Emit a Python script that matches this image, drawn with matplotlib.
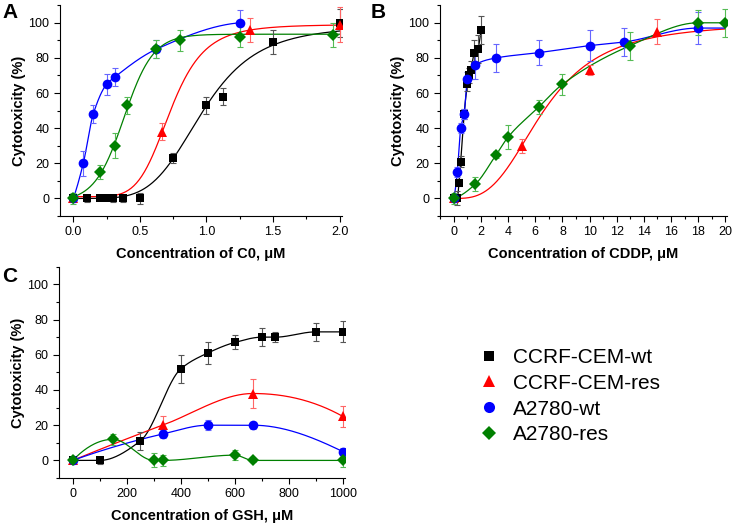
import numpy as np
import matplotlib
matplotlib.use("Agg")
import matplotlib.pyplot as plt
from matplotlib.lines import Line2D
from matplotlib.ticker import MultipleLocator

plt.rcParams['font.family'] = ['Liberation Sans', 'DejaVu Sans']

labels = ['CCRF-CEM-wt', 'CCRF-CEM-res', 'A2780-wt', 'A2780-res']
colors = ['black', 'red', 'blue', 'green']
err_colors = ['#555555', '#ff6666', '#6666ff', '#55bb55']
markers = ['s', '^', 'o', 'D']
msizes = [6, 7, 7, 6]

# Panel A - C0
a_wt_x = [0, 0.1, 0.2, 0.25, 0.3, 0.375, 0.5, 0.75, 1.0, 1.125, 1.5, 2.0]
a_wt_y = [0, 0, 0, 0, 0, 0, 0, 23, 53, 58, 89, 100]
a_wt_e = [2, 2, 1, 1, 2, 2, 3, 3, 5, 5, 7, 8]
a_res_x = [0, 0.67, 1.33, 2.0]
a_res_y = [0, 38, 96, 99]
a_res_e = [1, 5, 7, 10]
a_a_wt_x = [0, 0.075, 0.15, 0.25, 0.31, 0.625, 1.25]
a_a_wt_y = [0, 20, 48, 65, 69, 85, 100]
a_a_wt_e = [1, 7, 5, 6, 5, 5, 7]
a_a_res_x = [0, 0.2, 0.31, 0.4, 0.625, 0.8, 1.25, 1.95]
a_a_res_y = [0, 15, 30, 53, 85, 90, 92, 93]
a_a_res_e = [3, 4, 7, 5, 5, 6, 6, 7]

# Panel B - CDDP
b_wt_x = [0, 0.25, 0.375, 0.5, 0.75, 1.0, 1.125, 1.25, 1.5, 1.75, 2.0]
b_wt_y = [0, 0, 9, 21, 48, 65, 70, 73, 83, 85, 96]
b_wt_e = [2, 4, 2, 3, 3, 4, 4, 5, 7, 8, 8]
b_res_x = [0, 5, 10, 15]
b_res_y = [0, 30, 73, 95]
b_res_e = [1, 4, 3, 7]
b_a_wt_x = [0, 0.25, 0.5, 0.75, 1.0, 1.56, 3.125, 6.25, 10, 12.5, 18]
b_a_wt_y = [0, 15, 40, 48, 68, 76, 80, 83, 87, 89, 97]
b_a_wt_e = [2, 3, 3, 3, 4, 8, 8, 7, 9, 8, 9]
b_a_res_x = [0, 1.56, 3.125, 4, 6.25, 8, 13, 18, 20]
b_a_res_y = [0, 8, 25, 35, 52, 65, 87, 100, 100]
b_a_res_e = [3, 4, 2, 7, 4, 6, 8, 7, 8]

# Panel C - GSH
c_wt_x = [0, 100, 250, 400, 500, 600, 700, 750, 900, 1000]
c_wt_y = [0, 0, 11, 52, 61, 67, 70, 70, 73, 73]
c_wt_e = [1, 2, 5, 8, 6, 4, 5, 3, 5, 6]
c_res_x = [0, 333, 667, 1000]
c_res_y = [0, 20, 38, 25]
c_res_e = [1, 5, 8, 6]
c_a_wt_x = [0, 333, 500, 667, 1000]
c_a_wt_y = [0, 15, 20, 20, 5]
c_a_wt_e = [1, 2, 3, 2, 2]
c_a_res_x = [0, 150, 300, 333, 600, 667, 1000]
c_a_res_y = [0, 12, 0, 0, 3, 0, 0]
c_a_res_e = [2, 3, 4, 3, 3, 1, 4]

# fitted curve parameters (bottom, top, x0, slope)
a_wt_fit = (0, 98.5, 0.97, 4.7)      # Hill
a_res_fit = (1, 99, 0.73, 5.7)       # Hill
a_a_res_fit = (-2, 93.5, 0.38, 0.11)  # Boltzmann
b_res_fit = (0, 100, 6.63, 3.0)      # Hill


def hill(x, p):
    bottom, top, x0, n = p
    x = np.maximum(x, 1e-9)
    return bottom + (top - bottom) / (1 + (x0 / x) ** n)


def boltzmann(x, p):
    bottom, top, x0, dx = p
    return bottom + (top - bottom) / (1 + np.exp((x0 - x) / dx))


def edge_slope(h0, h1, m0, m1):
    d = ((2 * h0 + h1) * m0 - h0 * m1) / (h0 + h1)
    if np.sign(d) != np.sign(m0):
        d = 0.0
    elif np.sign(m0) != np.sign(m1) and abs(d) > 3 * abs(m0):
        d = 3 * m0
    return d


def smooth(x, y, n=300):
    """Monotone cubic (PCHIP) curve through the points."""
    x = np.asarray(x, float)
    y = np.asarray(y, float)
    h = np.diff(x)
    d = np.diff(y) / h
    m = np.zeros_like(y)
    for k in range(1, len(x) - 1):
        if d[k - 1] * d[k] > 0:
            w1 = 2 * h[k] + h[k - 1]
            w2 = h[k] + 2 * h[k - 1]
            m[k] = (w1 + w2) / (w1 / d[k - 1] + w2 / d[k])
    m[0] = edge_slope(h[0], h[1], d[0], d[1])
    m[-1] = edge_slope(h[-1], h[-2], d[-1], d[-2])
    xs = np.linspace(x[0], x[-1], n)
    i = np.clip(np.searchsorted(x, xs) - 1, 0, len(x) - 2)
    t = (xs - x[i]) / h[i]
    h00 = 2 * t**3 - 3 * t**2 + 1
    h10 = t**3 - 2 * t**2 + t
    h01 = -2 * t**3 + 3 * t**2
    h11 = t**3 - t**2
    ys = h00 * y[i] + h10 * h[i] * m[i] + h01 * y[i + 1] + h11 * h[i] * m[i + 1]
    return xs, ys


def draw_points(ax, k, x, y, e):
    ax.errorbar(x, y, yerr=e, fmt='none', ecolor=err_colors[k], elinewidth=0.8,
                capsize=2.2, capthick=0.8, zorder=2 + k)
    ax.plot(x, y, ls='none', marker=markers[k], color=colors[k], ms=msizes[k],
            mew=0, zorder=6 + k)


def style_axes(ax, xlabel, xmaj, xmin, xlim):
    ax.set_xlim(*xlim)
    ax.set_ylim(-10, 110)
    for s in ['top', 'right']:
        ax.spines[s].set_visible(False)
    ax.xaxis.set_major_locator(MultipleLocator(xmaj))
    ax.xaxis.set_minor_locator(MultipleLocator(xmin))
    ax.set_yticks([0, 20, 40, 60, 80, 100])
    ax.yaxis.set_minor_locator(MultipleLocator(10))
    ax.tick_params(which='both', direction='out', labelsize=9, width=0.8)
    ax.tick_params(which='major', length=4)
    ax.tick_params(which='minor', length=2.5)
    ax.set_xlabel(xlabel, fontsize=10.5, fontweight='bold', labelpad=6)
    ax.set_ylabel('Cytotoxicity (%)', fontsize=10.5, fontweight='bold', labelpad=2)


fig = plt.figure(figsize=(7.34, 5.23), dpi=100)
axA = fig.add_axes([0.0817, 0.587, 0.3845, 0.403])
axB = fig.add_axes([0.599, 0.587, 0.391, 0.403])
axC = fig.add_axes([0.080, 0.086, 0.390, 0.404])

lw = 0.9

# Panel A
xs = np.linspace(0, 2.0, 300)
axA.plot(xs, hill(xs, a_wt_fit), color=colors[0], lw=lw, zorder=1)
axA.plot(xs, hill(xs, a_res_fit), color=colors[1], lw=lw, zorder=1)
axA.plot(*smooth(a_a_wt_x, a_a_wt_y), color=colors[2], lw=lw, zorder=1)
axA.plot(xs, boltzmann(xs, a_a_res_fit), color=colors[3], lw=lw, zorder=1)
draw_points(axA, 0, a_wt_x, a_wt_y, a_wt_e)
draw_points(axA, 1, a_res_x, a_res_y, a_res_e)
draw_points(axA, 2, a_a_wt_x, a_a_wt_y, a_a_wt_e)
draw_points(axA, 3, a_a_res_x, a_a_res_y, a_a_res_e)
style_axes(axA, 'Concentration of C0, \u03bcM', 0.5, 0.25, (-0.1, 2.02))

# Panel B
xs = np.linspace(0, 20, 400)
axB.plot(*smooth(b_wt_x, b_wt_y), color=colors[0], lw=lw, zorder=1)
axB.plot(xs, hill(xs, b_res_fit), color=colors[1], lw=lw, zorder=1)
axB.plot(*smooth(b_a_wt_x + [20], b_a_wt_y + [97]), color=colors[2], lw=lw, zorder=1)
axB.plot(*smooth(b_a_res_x, b_a_res_y), color=colors[3], lw=lw, zorder=1)
draw_points(axB, 0, b_wt_x, b_wt_y, b_wt_e)
draw_points(axB, 1, b_res_x, b_res_y, b_res_e)
draw_points(axB, 2, b_a_wt_x, b_a_wt_y, b_a_wt_e)
draw_points(axB, 3, b_a_res_x, b_a_res_y, b_a_res_e)
style_axes(axB, 'Concentration of CDDP, \u03bcM', 2, 1, (-1.05, 20.1))

# Panel C
axC.plot(*smooth(c_wt_x, c_wt_y), color=colors[0], lw=lw, zorder=1)
axC.plot(*smooth(c_res_x, c_res_y), color=colors[1], lw=lw, zorder=1)
axC.plot(*smooth(c_a_wt_x, c_a_wt_y), color=colors[2], lw=lw, zorder=1)
axC.plot(*smooth(c_a_res_x, c_a_res_y), color=colors[3], lw=lw, zorder=1)
draw_points(axC, 0, c_wt_x, c_wt_y, c_wt_e)
draw_points(axC, 1, c_res_x, c_res_y, c_res_e)
draw_points(axC, 2, c_a_wt_x, c_a_wt_y, c_a_wt_e)
draw_points(axC, 3, c_a_res_x, c_a_res_y, c_a_res_e)
style_axes(axC, 'Concentration of GSH, \u03bcM', 200, 100, (-52, 1008))

# panel letters
fig.text(0.003, 0.995, 'A', fontsize=15, fontweight='bold', va='top')
fig.text(0.505, 0.995, 'B', fontsize=15, fontweight='bold', va='top')
fig.text(0.003, 0.49, 'C', fontsize=15, fontweight='bold', va='top')

handles = [Line2D([], [], ls='none', marker=markers[k], color=colors[k], ms=msizes[k] + 1, mew=0)
           for k in range(4)]
fig.legend(handles, labels, loc='upper left', bbox_to_anchor=(0.655, 0.335),
           frameon=False, fontsize=15, handlelength=0.8, handletextpad=0.75,
           labelspacing=0.33, borderpad=0, borderaxespad=0)

fig.savefig('out.png', dpi=100)
